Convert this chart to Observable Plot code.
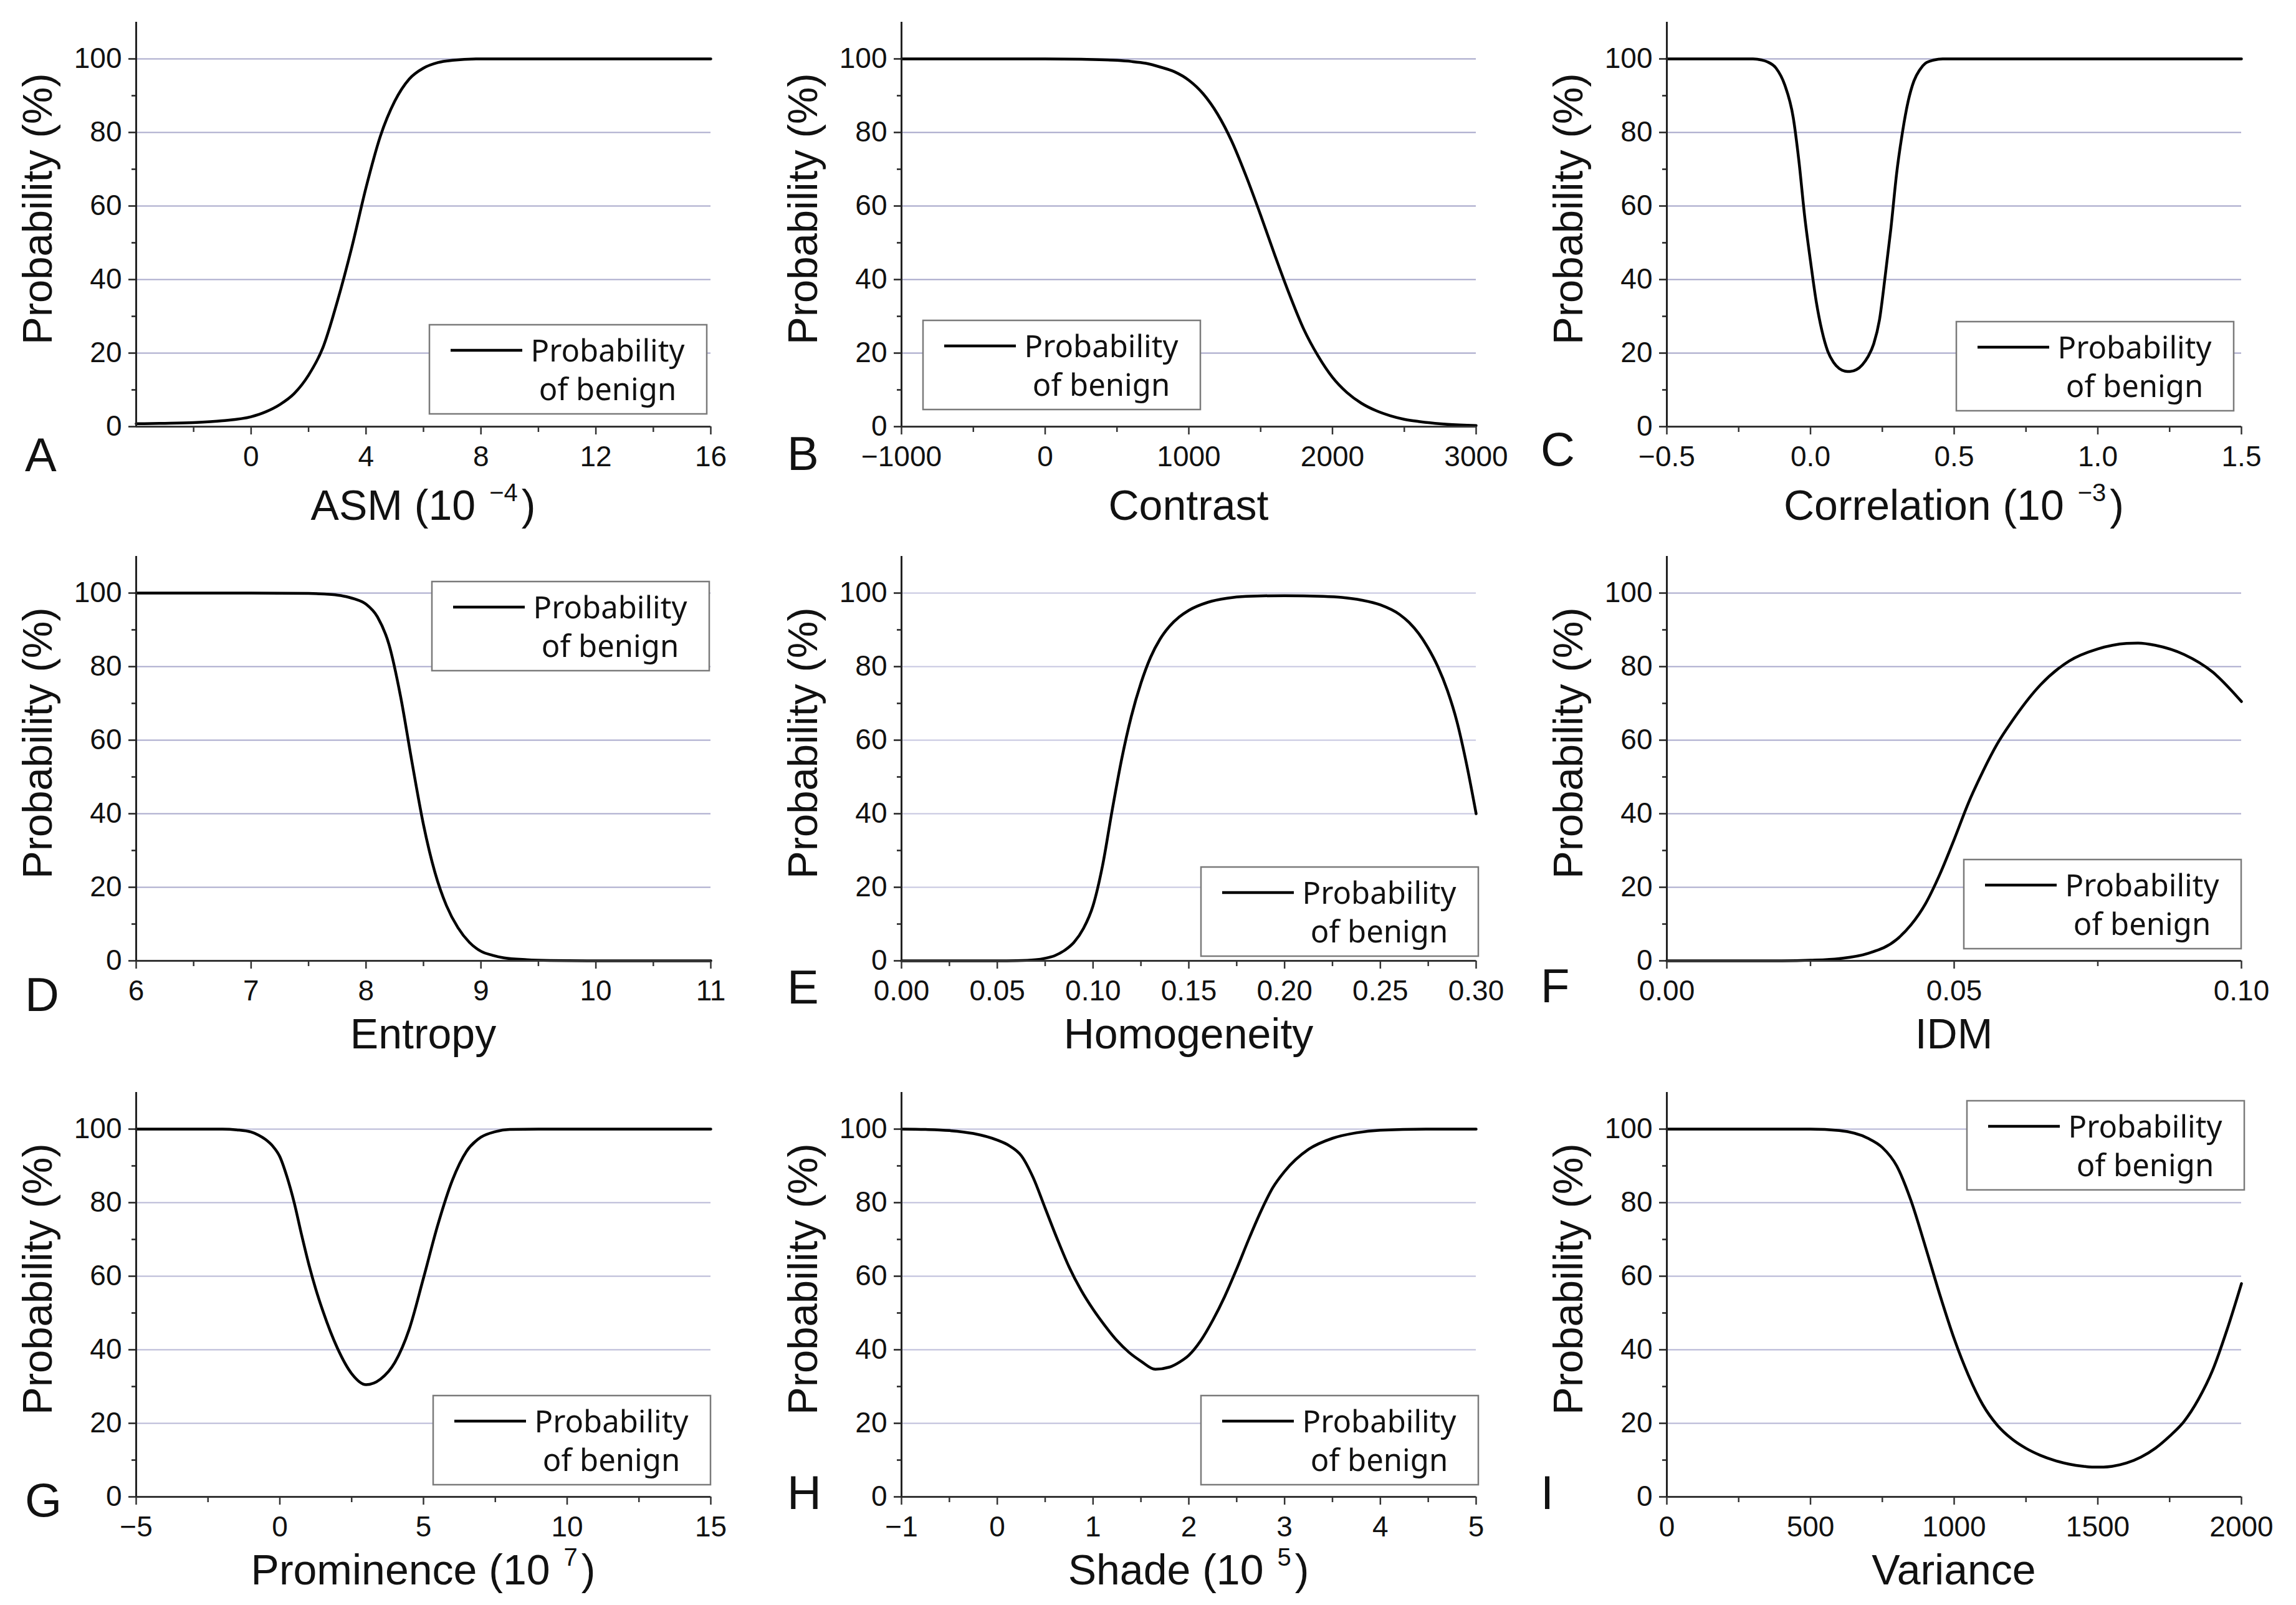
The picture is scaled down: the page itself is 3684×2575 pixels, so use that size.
<!DOCTYPE html>
<html>
<head>
<meta charset="utf-8">
<script src="https://cdn.jsdelivr.net/npm/d3@7"></script>
<script src="https://cdn.jsdelivr.net/npm/@observablehq/plot@0.6"></script>
<style>
html,body{margin:0;padding:0;background:#fff;}
#root{position:relative;width:3684px;height:2575px;overflow:hidden;background:#fff;}
#root svg{position:absolute;}
</style>
</head>
<body>
<div id="root"></div>
<script>
// ---------------- DATA ----------------
const yMajor = [0, 20, 40, 60, 80, 100];
const yMinor = [10, 30, 50, 70, 90];
const yGrid = [20, 40, 60, 80, 100];

// A: ASM (10^-4)
const asmX = [-4,-3,-2,-1,0,0.5,1,1.5,2,2.5,3,3.5,4,4.5,5,5.5,6,6.5,7,8,10,12,14,16];
const asmY = [0.8,0.9,1.1,1.6,2.7,4,6,9,14,21.5,34,48.6,65,79,88.5,94.5,97.5,99,99.6,100,100,100,100,100];
const asmTicks = [0,4,8,12,16];
const asmLabels = ["0","4","8","12","16"];
const asmMinor = [-2,2,6,10,14];

// B: Contrast
const contrastX = [-1000,-500,0,250,500,600,700,800,900,1000,1100,1200,1300,1400,1500,1600,1700,1800,1900,2000,2100,2200,2300,2400,2500,2600,2800,3000];
const contrastY = [100,100,100,99.9,99.6,99.3,98.8,97.8,96.5,94.2,90.5,85,77.5,68,57.5,46.5,36,26.5,19.2,13.4,9.3,6.4,4.4,3,2,1.4,0.65,0.3];
const contrastTicks = [-1000,0,1000,2000,3000];
const contrastLabels = ["\u22121000","0","1000","2000","3000"];
const contrastMinor = [-500,500,1500,2500];

// C: Correlation (10^-3)
const corrX = [-0.5,-0.3,-0.2,-0.17,-0.15,-0.12,-0.09,-0.06,-0.04,-0.02,0,0.02,0.04,0.06,0.08,0.1,0.12,0.137,0.16,0.18,0.2,0.22,0.24,0.26,0.28,0.3,0.32,0.34,0.36,0.38,0.4,0.43,0.46,0.5,1,1.5];
const corrY = [100,100,100,99.7,99.2,97.5,93,84,72,57,45,34,26,20.5,17.5,15.8,15.1,15,15.5,16.8,19,22.5,29,41,54,69,80,88.5,94,97,98.8,99.7,100,100,100,100];
const corrTicks = [-0.5,0,0.5,1,1.5];
const corrLabels = ["\u22120.5","0.0","0.5","1.0","1.5"];
const corrMinor = [-0.25,0.25,0.75,1.25];

// D: Entropy
const entropyX = [6,7,7.5,7.7,7.8,7.9,8,8.1,8.2,8.3,8.4,8.5,8.6,8.7,8.8,8.9,9,9.1,9.2,9.4,9.6,10,11];
const entropyY = [100,100,99.9,99.6,99.2,98.4,97,93.5,86,72,54,37,24,15,9,5,2.6,1.5,0.8,0.3,0.1,0,0];
const entropyTicks = [6,7,8,9,10,11];
const entropyLabels = ["6","7","8","9","10","11"];
const entropyMinor = [6.5,7.5,8.5,9.5,10.5];

// E: Homogeneity
const homX = [0,0.05,0.06,0.07,0.075,0.08,0.085,0.09,0.095,0.1,0.105,0.11,0.115,0.12,0.125,0.13,0.135,0.14,0.145,0.15,0.16,0.17,0.18,0.2,0.22,0.23,0.24,0.25,0.26,0.265,0.27,0.275,0.28,0.285,0.29,0.295,0.3];
const homY = [0,0,0.05,0.3,0.7,1.4,2.8,5,8.8,15,26,41,55,66.5,75.5,82.5,87.5,91,93.5,95.3,97.5,98.6,99.1,99.3,99.1,98.8,98.1,96.8,94.2,92,89,85,80,73.5,65,53.5,40];
const homTicks = [0,0.05,0.1,0.15,0.2,0.25,0.3];
const homLabels = ["0.00","0.05","0.10","0.15","0.20","0.25","0.30"];
const homMinor = [0.025,0.075,0.125,0.175,0.225,0.275];

// F: IDM
const idmX = [0,0.02,0.025,0.03,0.035,0.04,0.0425,0.045,0.0475,0.05,0.0525,0.055,0.0575,0.06,0.065,0.07,0.075,0.08,0.082,0.085,0.09,0.095,0.1];
const idmY = [0,0,0.15,0.6,2,5.8,9.8,15.5,23.5,33,43,51.5,59,65,75,81.5,84.8,86.3,86.4,85.8,83.3,78.5,70.5];
const idmTicks = [0,0.05,0.1];
const idmLabels = ["0.00","0.05","0.10"];
const idmMinor = [0.025,0.075];

// G: Prominence (10^7)
const promX = [-5,-3,-2,-1.5,-1,-0.75,-0.5,-0.25,0,0.25,0.5,0.75,1,1.25,1.5,2,2.5,3,3.5,4,4.5,5,5.5,6,6.5,7,7.5,8,9,12,15];
const promY = [100,100,100,99.8,99.2,98.4,97.2,95.4,92.5,87,80,71.5,63.5,56.5,50.5,40.5,33.5,30.5,32,36.5,45.5,59.5,74,86,94,97.8,99.3,99.9,100,100,100];
const promTicks = [-5,0,5,10,15];
const promLabels = ["\u22125","0","5","10","15"];
const promMinor = [-2.5,2.5,7.5,12.5];

// H: Shade (10^5)
const shadeX = [-1,-0.75,-0.5,-0.25,0,0.125,0.25,0.375,0.5,0.625,0.75,0.875,1,1.125,1.25,1.375,1.5,1.65,1.8,1.9,2,2.125,2.25,2.375,2.5,2.625,2.75,2.875,3,3.25,3.5,3.75,4,4.5,5];
const shadeY = [100,99.9,99.6,98.8,97,95.5,92.8,86.8,78.5,70.2,62.5,56.2,51,46.5,42.5,39.3,36.9,34.7,35.3,36.6,38.5,42.5,48,54.5,62,70,77.5,84,88.5,94.5,97.5,99,99.7,100,100];
const shadeTicks = [-1,0,1,2,3,4,5];
const shadeLabels = ["\u22121","0","1","2","3","4","5"];
const shadeMinor = [-0.5,0.5,1.5,2.5,3.5,4.5];

// I: Variance
const varX = [0,300,500,600,700,750,800,850,900,950,1000,1050,1100,1150,1200,1250,1300,1350,1400,1450,1480,1520,1550,1600,1650,1700,1750,1800,1850,1900,1950,2000];
const varY = [100,100,100,99.6,97.5,95,90,80.5,68,55,43,33,25,19.5,15.8,13.2,11.3,9.9,8.9,8.3,8.1,8.1,8.3,9.2,10.8,13.2,16.5,20.5,26.5,34.5,45.5,58];
const varTicks = [0,500,1000,1500,2000];
const varLabels = ["0","500","1000","1500","2000"];
const varMinor = [250,750,1250,1750];

const yTitle = "Probability (%)";
const legendLines = ["Probability", "of benign"];

// ---------------- LAYOUT ----------------
const colLeft = [0, 1228, 2456];
const rowTop = [0, 857, 1717];
const W = 1228, H = 858, mL = 218, mR = 88, mT = 35, mB = 174;
const plotH = H - mT - mB;

const panels = [
  {k:"A", c:0, r:0, x:asmX, y:asmY, dom:[-4,16], t:asmTicks, l:asmLabels, m:asmMinor, title:["ASM (10","\u22124",")"], lg:[689,521], lt:[40,756], grid:"#a9a9cc"},
  {k:"B", c:1, r:0, x:contrastX, y:contrastY, dom:[-1000,3000], t:contrastTicks, l:contrastLabels, m:contrastMinor, title:["Contrast"], lg:[1481,514], lt:[1263,754], grid:"#a4a4c8"},
  {k:"C", c:2, r:0, x:corrX, y:corrY, dom:[-0.5,1.5], t:corrTicks, l:corrLabels, m:corrMinor, title:["Correlation (10","\u22123",")"], lg:[3139,516], lt:[2472,747], grid:"#a4a4c8"},
  {k:"D", c:0, r:1, x:entropyX, y:entropyY, dom:[6,11], t:entropyTicks, l:entropyLabels, m:entropyMinor, title:["Entropy"], lg:[693,933], lt:[40,1622], grid:"#a9a9cc"},
  {k:"E", c:1, r:1, x:homX, y:homY, dom:[0,0.3], t:homTicks, l:homLabels, m:homMinor, title:["Homogeneity"], lg:[1927,1391], lt:[1263,1610], grid:"#c6c6e0"},
  {k:"F", c:2, r:1, x:idmX, y:idmY, dom:[0,0.1], t:idmTicks, l:idmLabels, m:idmMinor, title:["IDM"], lg:[3151,1379], lt:[2472,1608], grid:"#a9a9cc"},
  {k:"G", c:0, r:2, x:promX, y:promY, dom:[-5,15], t:promTicks, l:promLabels, m:promMinor, title:["Prominence (10","7",")"], lg:[695,2239], lt:[40,2433], grid:"#b8b8d6"},
  {k:"H", c:1, r:2, x:shadeX, y:shadeY, dom:[-1,5], t:shadeTicks, l:shadeLabels, m:shadeMinor, title:["Shade (10","5",")"], lg:[1927,2239], lt:[1263,2421], grid:"#bdbdda"},
  {k:"I", c:2, r:2, x:varX, y:varY, dom:[0,2000], t:varTicks, l:varLabels, m:varMinor, title:["Variance"], lg:[3156,1766], lt:[2472,2421], grid:"#b4b4d4"}
];

const root = document.getElementById("root");
const FONT = "'Liberation Sans', Arial, Helvetica, sans-serif";

for (const p of panels) {
  const data = p.x.map((x, i) => ({x, y: p.y[i]}));
  const labelMap = new Map(p.t.map((t, i) => [t, p.l[i]]));
  const chart = Plot.plot({
    width: W, height: H,
    marginLeft: mL, marginRight: mR, marginTop: mT, marginBottom: mB,
    style: {background: "transparent", color: "#111", fontFamily: FONT, overflow: "visible"},
    x: {domain: p.dom, label: null},
    y: {domain: [0, 110], label: null},
    marks: [
      Plot.ruleY(yGrid, {stroke: p.grid, strokeWidth: 2}),
      Plot.line(data, {x: "x", y: "y", stroke: "#000", strokeWidth: 4.5, curve: "monotone-x"}),
      Plot.ruleY([0], {stroke: "#333", strokeWidth: 3}),
      Plot.ruleX([p.dom[0]], {y1: 0, y2: 110, stroke: "#222", strokeWidth: 3}),
      Plot.axisX({ticks: p.m, tickSize: 9, tickFormat: () => "", stroke: "#333", strokeWidth: 2.5, label: null}),
      Plot.axisX({ticks: p.t, tickSize: 13, tickPadding: 18, tickFormat: d => labelMap.get(d), fontSize: 46, stroke: "#333", strokeWidth: 2.5, fill: "#111", label: null}),
      Plot.axisY({ticks: yMinor, tickSize: 7, tickFormat: () => "", stroke: "#222", strokeWidth: 2.5, label: null}),
      Plot.axisY({ticks: yMajor, tickSize: 12, tickPadding: 11, fontSize: 46, stroke: "#222", strokeWidth: 2.5, fill: "#111", label: null})
    ]
  });
  chart.style.left = colLeft[p.c] + "px";
  chart.style.top = rowTop[p.r] + "px";
  root.appendChild(chart);
}

// ---------------- overlay: titles, panel letters, legends ----------------
const ovNode = document.createElementNS("http://www.w3.org/2000/svg", "svg");
root.appendChild(ovNode);
const ov = d3.select(ovNode)
  .attr("width", 3684).attr("height", 2575)
  .attr("viewBox", "0 0 3684 2575")
  .style("left", "0px").style("top", "0px")
  .style("font-family", FONT);

const titleBase = [834, 1682, 2542];
const TITLE_SIZE = 68, SUP_SIZE = 40, SUP_RISE = 30, SUP_GAP = 22, PAREN_GAP = 6;
for (const p of panels) {
  const x0 = colLeft[p.c] + mL;
  const cx = x0 + (W - mL - mR) / 2;
  const y0 = rowTop[p.r] + mT + plotH;
  const base = titleBase[p.r];

  // x title (superscript parts as separate text elements, positioned by measured widths)
  if (p.title.length === 1) {
    ov.append("text")
      .attr("x", cx).attr("y", base)
      .attr("text-anchor", "middle")
      .attr("font-size", TITLE_SIZE).attr("fill", "#111")
      .text(p.title[0]);
  } else {
    const t1 = ov.append("text").attr("y", base).attr("font-size", TITLE_SIZE).attr("fill", "#111").text(p.title[0]);
    const t2 = ov.append("text").attr("y", base - SUP_RISE).attr("font-size", SUP_SIZE).attr("fill", "#111").text(p.title[1]);
    const t3 = ov.append("text").attr("y", base).attr("font-size", TITLE_SIZE).attr("fill", "#111").text(p.title[2]);
    const w1 = t1.node().getComputedTextLength();
    const w2 = t2.node().getComputedTextLength();
    const w3 = t3.node().getComputedTextLength();
    const total = w1 + SUP_GAP + w2 + PAREN_GAP + w3;
    const sx = cx - total / 2;
    t1.attr("x", sx);
    t2.attr("x", sx + w1 + SUP_GAP);
    t3.attr("x", sx + w1 + SUP_GAP + w2 + PAREN_GAP);
  }

  // y title
  ov.append("text")
    .attr("transform", `translate(${colLeft[p.c] + 83},${y0 - 131}) rotate(-90)`)
    .attr("text-anchor", "start")
    .attr("font-size", 67).attr("fill", "#111")
    .style("white-space", "pre")
    .text(yTitle);

  // panel letter
  ov.append("text")
    .attr("x", p.lt[0]).attr("y", p.lt[1])
    .attr("font-size", 76).attr("fill", "#111")
    .text(p.k);

  // legend
  const g = ov.append("g").attr("transform", `translate(${p.lg[0]},${p.lg[1]})`);
  g.append("rect").attr("width", 445).attr("height", 143)
    .attr("fill", "#fff").attr("stroke", "#7a7a7a").attr("stroke-width", 2.5);
  g.append("line").attr("x1", 34).attr("x2", 149).attr("y1", 41).attr("y2", 41)
    .attr("stroke", "#000").attr("stroke-width", 4.5);
  g.append("text").attr("x", 286).attr("y", 59).attr("text-anchor", "middle")
    .attr("font-family", "'Noto Sans', sans-serif").attr("font-size", 49).attr("fill", "#111")
    .text(legendLines[0]);
  g.append("text").attr("x", 286).attr("y", 121).attr("text-anchor", "middle")
    .attr("font-family", "'Noto Sans', sans-serif").attr("font-size", 49).attr("fill", "#111")
    .text(legendLines[1]);
}
</script>
</body>
</html>
